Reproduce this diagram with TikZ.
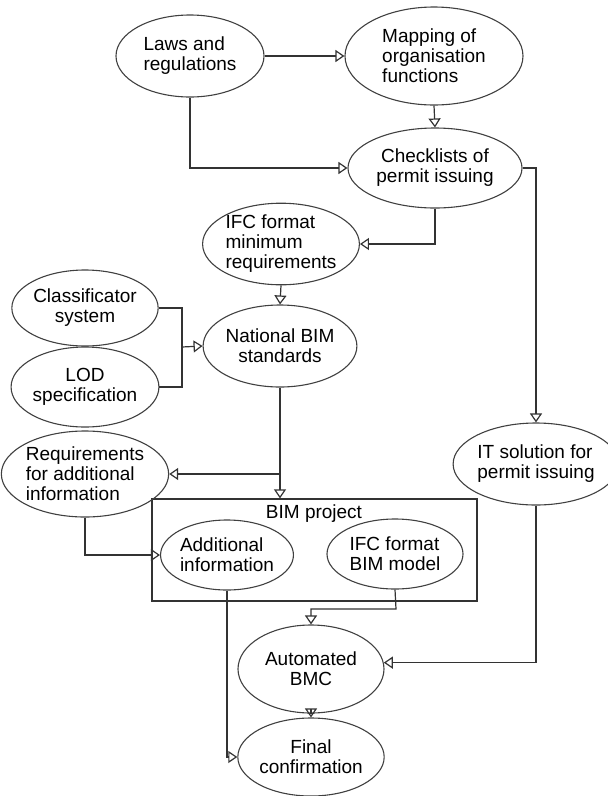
\documentclass[tikz,border=0pt]{standalone}
\usepackage{fontspec}
\setmainfont{Liberation Sans}
\usetikzlibrary{shapes.geometric,arrows.meta}
\tikzset{
  oval/.style={ellipse,draw=black!75,line width=1.1pt,inner sep=0pt,
    font=\fontsize{19}{20}\selectfont,align=center},
  lft/.style={align=left},
  conn/.style={draw=black!80,line width=1.2pt},
  arr/.style={conn,-{Triangle[open,length=9pt,width=12pt]}},
}
\begin{document}
\begin{tikzpicture}[x=1pt,y=-1pt]
\useasboundingbox (0,0) rectangle (608,796);
\node[draw=black!80,line width=1.2pt,minimum width=325pt,minimum height=102pt,inner sep=0pt] (box) at (314.5,550) {};
\node[font=\fontsize{19}{20}\selectfont] (boxlab) at (314,514) {BIM project};
\node[oval,lft,minimum width=148pt,minimum height=82pt] (laws) at (190,56) {Laws and\\regulations};
\node[oval,lft,minimum width=178pt,minimum height=98pt] (map) at (434,56) {Mapping of\\organisation\\functions};
\node[oval,minimum width=174pt,minimum height=80pt] (check) at (435,168) {Checklists of\\permit issuing};
\node[oval,lft,minimum width=154pt,minimum height=76pt] (ifcmin) at (281,244) {IFC format\\minimum\\requirements};
\node[oval,minimum width=146pt,minimum height=76pt] (class) at (85,308) {Classificator\\system};
\node[oval,minimum width=146pt,minimum height=80pt] (lod) at (85,387) {LOD\\specification};
\node[oval,minimum width=150pt,minimum height=82pt] (nat) at (280,346) {National BIM\\standards};
\node[oval,lft,minimum width=156pt,minimum height=86pt] (req) at (85,474) {Requirements\\for additional\\information};
\node[oval,lft,minimum width=142pt,minimum height=82pt] (it) at (536,464) {IT solution for\\permit issuing};
\node[oval,lft,minimum width=118pt,minimum height=70pt] (add) at (227,555) {Additional\\information};
\node[oval,lft,minimum width=136pt,minimum height=70pt] (bimm) at (395,554) {IFC format\\BIM model};
\node[oval,minimum width=146pt,minimum height=88pt] (auto) at (311,669) {Automated\\BMC};
\node[oval,minimum width=146pt,minimum height=78pt] (final) at (311,757) {Final\\confirmation};
\coordinate (j) at (182,347);
\coordinate (k) at (280,474);
\coordinate (m) at (396,609);
\draw[arr] (laws.east) -- (map.west);
\draw[arr] (map.south) -- (check.north);
\draw[arr] (laws.south) |- (check.west);
\draw[arr] (check.south) |- (ifcmin.east);
\draw[arr] (check.east) -| (it.north);
\draw[arr] (ifcmin.south) -- (nat.north);
\draw[conn] (class.east) -| (j);
\draw[conn] (lod.east) -| (j);
\draw[arr] (j) -- (nat.west);
\draw[arr] (nat.south) -- (nat.south |- box.north);
\draw[arr] (k) -- (req.east);
\draw[arr] (req.south) |- (add.west);
\draw[arr] (add.south) |- (final.west);
\draw[arr] (bimm.south) -- (m) -| (auto.north);
\draw[arr] (it.south) |- (auto.5);
\draw[arr] (auto.south) -- (final.north);
\end{tikzpicture}
\end{document}
